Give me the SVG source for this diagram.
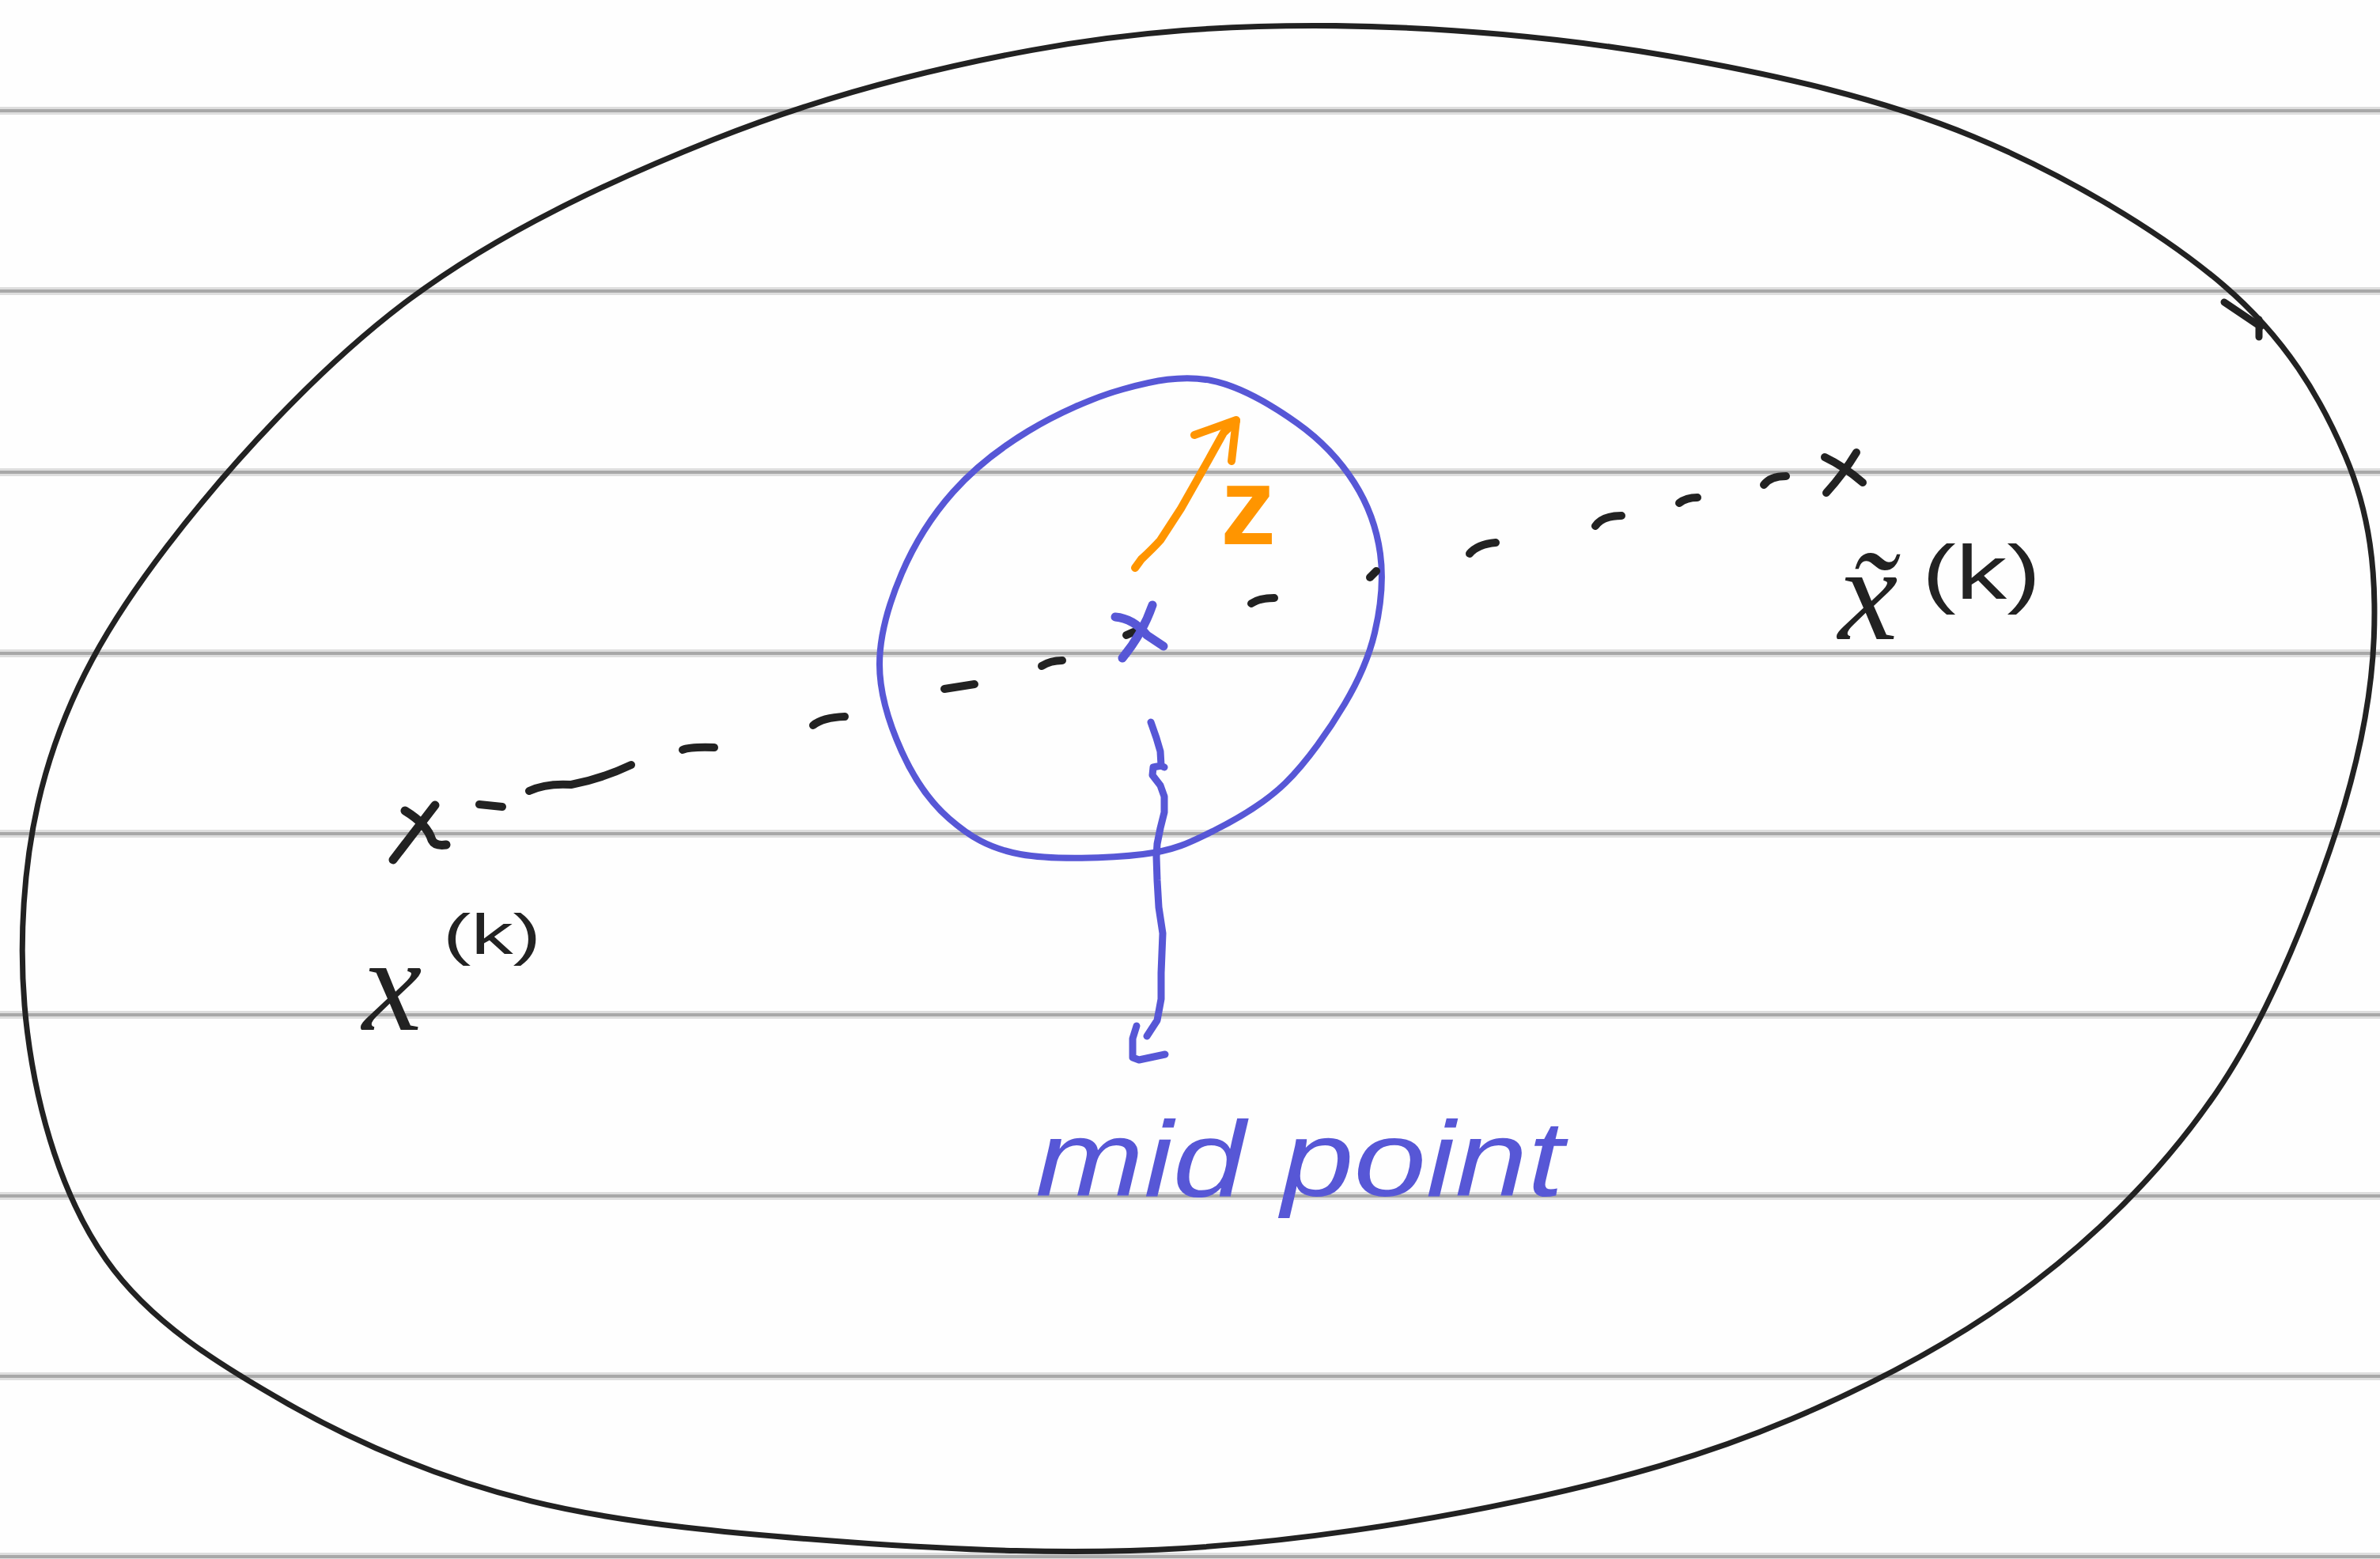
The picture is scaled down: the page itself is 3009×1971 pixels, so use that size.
<svg xmlns="http://www.w3.org/2000/svg" width="3009" height="1971" viewBox="0 0 3009 1971">
<style>
.soft{stroke:#dedede;stroke-width:10}
.rule{stroke:#a8a8a8;stroke-width:4}
.ink{fill:none;stroke:#222;stroke-linecap:round;stroke-linejoin:round}
.blue{fill:none;stroke:#5757d6;stroke-linecap:round;stroke-linejoin:round}
.orange{fill:none;stroke:#ff9500;stroke-linecap:round;stroke-linejoin:round;stroke-width:10}
.lbl{font-family:"Liberation Serif",serif;font-style:italic;fill:#222}
.sup{font-family:"Liberation Sans",sans-serif;fill:#222}
</style>
<rect width="3009" height="1971" fill="#fefefe"/>
<g id="rules">
<g class="soft"><line x1="0" y1="140" x2="3009" y2="140"/><line x1="0" y1="368" x2="3009" y2="368"/><line x1="0" y1="597" x2="3009" y2="597"/><line x1="0" y1="826" x2="3009" y2="826"/><line x1="0" y1="1054" x2="3009" y2="1054"/><line x1="0" y1="1283" x2="3009" y2="1283"/><line x1="0" y1="1512" x2="3009" y2="1512"/><line x1="0" y1="1740" x2="3009" y2="1740"/><line x1="0" y1="1968" x2="3009" y2="1968"/></g>
<g class="rule"><line x1="0" y1="140" x2="3009" y2="140"/><line x1="0" y1="368" x2="3009" y2="368"/><line x1="0" y1="597" x2="3009" y2="597"/><line x1="0" y1="826" x2="3009" y2="826"/><line x1="0" y1="1054" x2="3009" y2="1054"/><line x1="0" y1="1283" x2="3009" y2="1283"/><line x1="0" y1="1512" x2="3009" y2="1512"/><line x1="0" y1="1740" x2="3009" y2="1740"/><line x1="0" y1="1968" x2="3009" y2="1968"/></g>
</g>
<g id="ellipse" class="ink">
<path transform="scale(1.91901)" stroke-width="3.65" d="M880,17 C950,17.7 1030,24.8 1100,37 C1170,49.2 1239.2,64.8 1300,90 C1360.8,115.2 1424.2,153 1465,188 C1505.8,223 1528.5,261.3 1545,300 C1561.5,338.7 1565.7,376.7 1564,420 C1562.3,463.3 1552.3,510 1535,560 C1517.7,610 1492.5,672.5 1460,720 C1427.5,767.5 1386.7,809.2 1340,845 C1293.3,880.8 1236.7,911 1180,935 C1123.3,959 1066.7,974.8 1000,989 C933.3,1003.2 853.3,1015.5 780,1020 C706.7,1024.5 631.7,1021.2 560,1016 C488.3,1010.8 411.7,1004.2 350,989 C288.3,973.8 236.7,951.5 190,925 C143.3,898.5 98.7,870.8 70,830 C41.3,789.2 24.7,733.3 18,680 C11.3,626.7 14.7,563.3 30,510 C45.3,456.7 70,412.2 110,360 C150,307.8 210,241.7 270,197 C330,152.3 401.7,119.3 470,92 C538.3,64.7 611.7,45.5 680,33 C748.3,20.5 810,16.3 880,17 Z"/>
<path d="M2812,382 L2858,413 M2856,404 L2856,426" stroke-width="9"/>
</g>
<g id="circle" class="blue" stroke-width="8">
<path d="M1531,481 C1567.7,488.2 1609.8,513.5 1640,535 C1670.2,556.5 1694.5,582.5 1712,610 C1729.5,637.5 1740.7,668.3 1745,700 C1749.3,731.7 1745.5,768.3 1738,800 C1730.5,831.7 1718.8,858.3 1700,890 C1681.2,921.7 1652.5,963.3 1625,990 C1597.5,1016.7 1565,1035 1535,1050 C1505,1065 1485.8,1075 1445,1080 C1404.2,1085 1330.8,1087.5 1290,1080 C1249.2,1072.5 1225,1056.7 1200,1035 C1175,1013.3 1154.7,982.5 1140,950 C1125.3,917.5 1112,877.5 1112,840 C1112,802.5 1124.5,761.3 1140,725 C1155.5,688.7 1178.3,652 1205,622 C1231.7,592 1264.2,566.7 1300,545 C1335.8,523.3 1381.5,502.7 1420,492 C1458.5,481.3 1494.3,473.8 1531,481 Z"/>
</g>
<g id="connectors">
<g id="dashed-line" class="ink" stroke-width="10">
<path d="M606,1017 L635,1020"/>
<path d="M669,1000 Q690,990 722,992 Q760,985 798,967"/>
<path d="M863,948 Q872,944 903,945"/>
<path d="M1028,917 Q1040,907 1068,906"/>
<path d="M1194,871 L1232,865"/>
<path d="M1317,842 Q1328,835 1343,835"/>
<path d="M1424,803 L1433,799"/>
<path d="M1582,763 Q1592,756 1611,756"/>
<path d="M1732,730 L1740,722"/>
<path d="M1858,700 Q1868,688 1891,686"/>
<path d="M2017,665 Q2026,652 2050,652"/>
<path d="M2123,636 Q2132,629 2146,629"/>
<path d="M2230,613 Q2238,602 2258,602"/>
</g>
<g id="arrow-z" class="orange">
<path d="M1435,718 L1443,707 Q1458,693 1467,683 L1493,643 L1527,583 L1547,547 L1563,532"/>
<path d="M1510,550 L1563,531 L1557,583"/>
</g>
<g id="arrow-mid" class="blue" stroke-width="9">
<path d="M1455,913 L1462,933 L1467,950 L1468,968 L1472,970 M1468,968 L1458,970 L1457,980 L1467,993 L1472,1007 L1472,1027 L1467,1047 L1463,1067 L1462,1083 L1463,1113 L1465,1147 L1470,1180 L1468,1230 L1468,1263 L1463,1290 L1450,1310"/>
<path d="M1437,1297 L1432,1313 L1432,1337 L1440,1340 L1473,1333"/>
</g>
</g>
<g id="point-left" class="ink" stroke-width="11">
<path d="M550,1018 L497,1087"/>
<path d="M512,1025 Q540,1042 546,1062 Q550,1070 564,1068"/>
</g>
<g id="point-right" class="ink" stroke-width="10">
<path d="M2307,578 Q2332,590 2355,610"/>
<path d="M2347,572 Q2330,600 2309,623"/>
</g>
<g id="point-mid" class="blue" stroke-width="11">
<path d="M1410,780 Q1433,782 1450,803 L1471,817"/>
<path d="M1457,765 Q1445,800 1419,832"/>
</g>
<g id="label-x">
<text class="lbl" x="458" y="1302" font-size="170">x</text>
<text class="sup" x="560" y="1206" font-size="72" textLength="124" lengthAdjust="spacingAndGlyphs">(k)</text>
</g>
<g id="label-xtilde">
<text class="lbl" x="2324" y="808" font-size="170">x̃</text>
<text class="sup" x="2430" y="757" font-size="96" textLength="150" lengthAdjust="spacingAndGlyphs">(k)</text>
</g>
<g id="label-z">
<text x="1543" y="688" font-family="Liberation Sans, sans-serif" font-weight="bold" font-size="140" fill="#ff9500">z</text>
</g>
<g id="label-mid">
<text x="1309" y="1512" font-family="Liberation Sans, sans-serif" font-style="italic" font-size="135" fill="#5757d6" textLength="668" lengthAdjust="spacingAndGlyphs">mid point</text>
</g>
</svg>
